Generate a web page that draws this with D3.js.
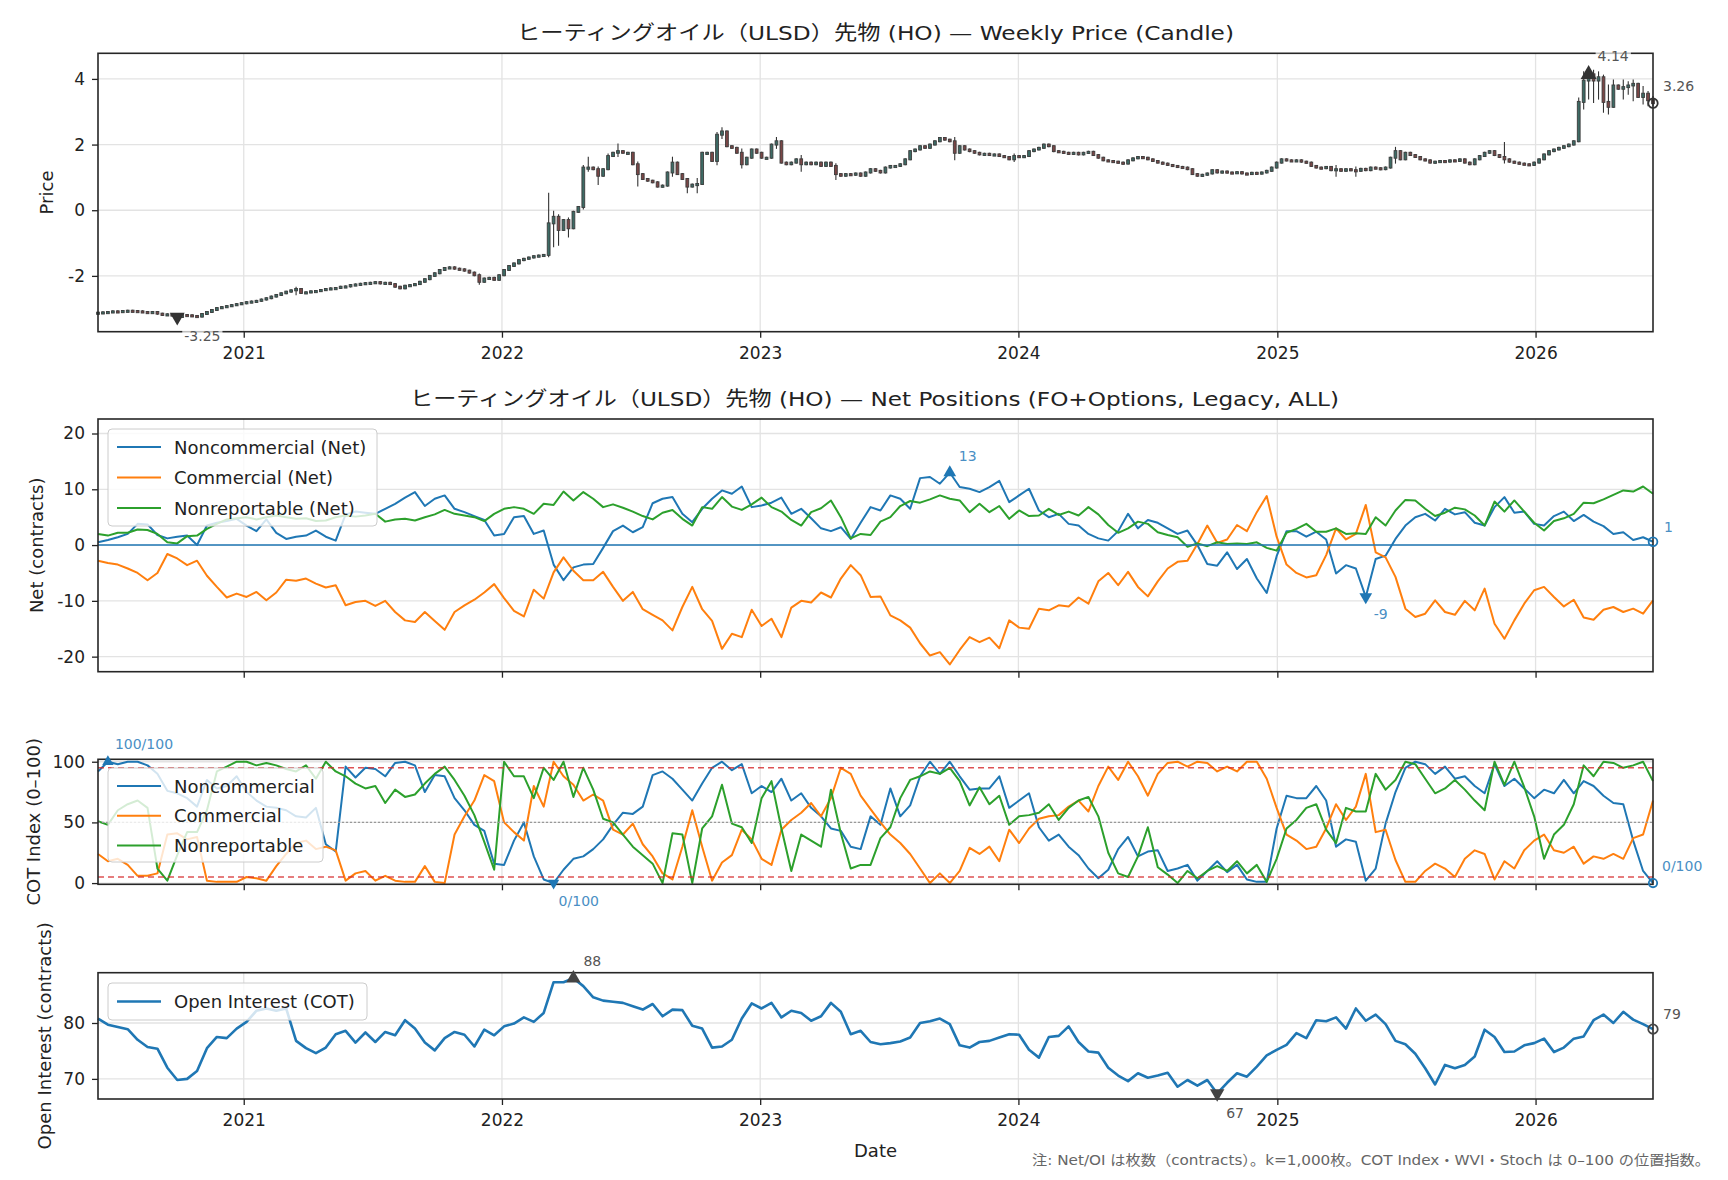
<!DOCTYPE html>
<html>
<head>
<meta charset="utf-8">
<script src="https://cdn.jsdelivr.net/npm/d3@7"></script>
<style>
body { margin: 0; background: #fff; }
svg text { font-family: "DejaVu Sans", "Noto Sans CJK JP", sans-serif; }
</style>
</head>
<body>
<svg id="chart" width="1728" height="1180"></svg>
<script>
// ---- data (weekly, first report 2020-06-09) ----
var startDate = "2020-06-09";
var yearTicks = ["2021", "2022", "2023", "2024", "2025", "2026"];
var seriesNames = ["Noncommercial", "Commercial", "Nonreportable"];

// weekly closes (back-adjusted price)
var priceClose = [
  -3.12,-3.11,-3.10,-3.08,-3.09,-3.07,-3.06,-3.07,-3.08,-3.10,
  -3.11,-3.10,-3.15,-3.19,-3.17,-3.21,-3.25,-3.19,-3.20,-3.22,
  -3.24,-3.16,-3.10,-3.04,-2.98,-2.95,-2.92,-2.89,-2.86,-2.83,
  -2.80,-2.78,-2.76,-2.72,-2.68,-2.63,-2.58,-2.53,-2.48,-2.44,
  -2.40,-2.52,-2.50,-2.47,-2.46,-2.43,-2.40,-2.38,-2.37,-2.33,
  -2.32,-2.28,-2.26,-2.24,-2.22,-2.21,-2.19,-2.23,-2.21,-2.25,
  -2.33,-2.38,-2.30,-2.28,-2.25,-2.18,-2.10,-2.00,-1.92,-1.82,
  -1.76,-1.74,-1.78,-1.80,-1.84,-1.90,-1.98,-2.18,-2.08,-2.06,
  -2.12,-1.98,-1.82,-1.70,-1.62,-1.52,-1.48,-1.44,-1.40,-1.38,
  -1.36,-0.40,-0.20,-0.60,-0.30,-0.55,-0.05,0.10,1.30,1.30,
  1.25,1.05,1.25,1.65,1.75,1.80,1.75,1.75,1.40,1.10,
  0.95,0.90,0.85,0.72,0.75,1.15,1.45,1.10,0.95,0.72,
  0.78,0.80,1.75,1.75,1.50,2.30,2.40,1.95,1.90,1.75,
  1.40,1.60,1.85,1.75,1.60,1.60,2.00,2.10,1.45,1.40,
  1.45,1.55,1.40,1.45,1.40,1.45,1.35,1.45,1.35,1.10,
  1.05,1.10,1.08,1.12,1.05,1.15,1.25,1.20,1.15,1.30,
  1.35,1.35,1.40,1.55,1.80,1.85,1.95,1.90,2.00,2.10,
  2.20,2.15,2.10,1.75,1.95,1.85,1.80,1.75,1.70,1.72,
  1.68,1.70,1.65,1.62,1.55,1.65,1.62,1.65,1.80,1.85,
  1.90,2.00,1.95,1.80,1.78,1.75,1.72,1.75,1.70,1.75,
  1.78,1.68,1.60,1.52,1.50,1.48,1.45,1.42,1.52,1.58,
  1.62,1.60,1.55,1.50,1.45,1.42,1.38,1.35,1.32,1.30,
  1.25,1.10,1.05,1.08,1.12,1.22,1.15,1.18,1.15,1.14,
  1.16,1.12,1.10,1.14,1.12,1.15,1.20,1.30,1.45,1.55,
  1.52,1.50,1.52,1.48,1.45,1.35,1.30,1.28,1.32,1.22,
  1.25,1.20,1.25,1.22,1.20,1.26,1.22,1.30,1.28,1.25,
  1.30,1.60,1.80,1.55,1.75,1.68,1.62,1.55,1.52,1.45,
  1.48,1.50,1.48,1.52,1.50,1.55,1.45,1.40,1.55,1.65,
  1.75,1.80,1.68,1.62,1.55,1.48,1.45,1.42,1.40,1.38,
  1.45,1.55,1.70,1.80,1.85,1.90,1.95,2.00,2.10,3.30,
  3.95,4.14,3.95,4.05,3.30,3.15,3.80,3.70,3.75,3.80,
  3.85,3.45,3.55,3.35,3.26
];
// [week index, high, low] for candles with visible wicks
var priceWicks = [
  [16,-3.20,-3.28],[40,-2.36,-2.56],[77,-1.96,-2.24],[91,0.50,-1.40],[92,-0.05,-1.10],
  [93,-0.15,-1.05],[95,-0.25,-0.80],[98,1.35,0.05],[99,1.60,1.20],[101,1.30,0.80],
  [103,1.70,1.25],[105,2.00,1.65],[109,1.45,0.75],[116,1.60,1.05],[119,0.95,0.55],
  [121,0.95,0.55],[125,2.35,1.40],[126,2.50,2.20],[130,1.85,1.30],[137,2.20,1.90],
  [142,1.65,1.20],[149,1.40,0.95],[173,2.20,1.55],[185,1.70,1.50],[250,1.35,1.05],
  [254,1.30,1.05],[262,1.90,1.45],[284,2.05,1.45],[299,3.40,2.25],[300,4.20,3.10],
  [301,4.30,3.40],[302,4.25,3.30],[303,4.20,3.40],[304,4.10,3.00],[305,3.80,2.95],
  [306,3.95,3.20],[308,3.95,3.40],[309,3.90,3.55],[310,3.95,3.35],[312,3.75,3.25],
  [313,3.60,3.20],[314,3.45,3.20]
];

// net positions, k contracts, every 2nd week
var netNoncomm = [
  0.5,0.9,1.4,2.0,3.8,3.7,1.8,1.2,1.5,1.7,
  0.0,3.5,4.0,4.3,4.7,3.5,2.5,4.6,2.2,1.1,
  1.5,1.7,2.6,1.5,0.8,5.5,6.0,5.8,5.6,6.5,
  7.4,8.5,9.5,7.0,8.3,8.9,6.5,5.9,5.2,4.5,
  1.7,2.0,5.0,5.2,2.0,2.6,-3.5,-6.3,-4.0,-3.5,
  -3.4,-0.5,2.5,3.5,2.3,3.2,7.5,8.3,8.6,5.6,
  4.1,6.5,8.3,9.8,9.2,10.5,6.8,7.1,7.6,8.5,
  5.6,6.5,4.8,3.0,2.5,3.2,1.1,4.0,6.8,6.2,
  8.9,8.3,6.5,12.0,12.2,11.0,13.0,10.4,10.1,9.5,
  10.4,11.5,7.7,8.9,10.1,6.2,5.0,5.6,3.8,3.5,
  2.0,1.2,0.8,2.5,5.6,3.0,4.5,4.0,3.0,2.0,
  2.6,0.0,-3.4,-3.7,-1.3,-4.3,-2.5,-6.0,-8.6,-2.0,
  2.5,2.5,1.5,2.4,1.0,-5.1,-3.6,-4.2,-9.3,-2.5,
  -1.9,1.1,3.5,5.0,5.6,4.4,6.5,5.5,5.9,4.0,
  3.5,6.8,8.6,5.8,6.0,3.8,3.5,5.2,6.0,4.3,
  5.4,4.2,3.4,2.0,2.3,0.9,1.4,0.6
];
var netComm = [
  -2.8,-3.2,-3.5,-4.2,-5.0,-6.3,-5.0,-1.6,-2.4,-3.6,
  -2.8,-5.5,-7.5,-9.4,-8.7,-9.3,-8.4,-9.9,-8.5,-6.2,
  -6.4,-6.0,-6.9,-7.6,-7.2,-10.8,-10.2,-10.0,-10.9,-10.0,
  -12.0,-13.5,-13.8,-12.0,-13.6,-15.2,-12.0,-10.8,-9.8,-8.5,
  -7.0,-9.5,-11.8,-12.8,-8.0,-9.6,-4.9,-2.2,-4.6,-6.3,
  -6.3,-4.8,-7.5,-10.0,-8.4,-11.5,-12.5,-13.5,-15.3,-11.1,
  -7.5,-11.5,-13.6,-18.6,-15.9,-16.5,-11.6,-14.5,-13.2,-16.5,
  -11.2,-10.0,-10.3,-8.5,-9.4,-6.0,-3.6,-5.4,-9.3,-9.2,
  -12.6,-13.5,-14.8,-17.6,-19.8,-19.2,-21.4,-18.8,-16.5,-17.4,
  -16.6,-18.5,-13.5,-14.8,-15.0,-11.4,-11.7,-10.8,-11.0,-9.4,
  -10.5,-6.5,-5.0,-7.2,-4.8,-7.5,-9.2,-6.5,-4.2,-3.0,
  -2.8,0.2,3.5,0.4,1.0,3.6,2.5,5.9,8.8,1.5,
  -3.5,-5.0,-5.8,-5.4,-1.8,3.0,1.0,2.0,7.2,-1.3,
  -2.2,-5.7,-11.4,-12.9,-12.3,-9.9,-12.0,-12.5,-10.0,-11.7,
  -7.8,-14.1,-16.8,-13.5,-10.5,-8.1,-7.5,-9.3,-11.0,-9.8,
  -13.0,-13.4,-11.6,-11.1,-12.0,-11.4,-12.3,-9.9
];
var netNonrep = [
  2.0,1.7,2.2,2.2,2.8,2.7,2.0,0.5,0.3,1.6,
  1.7,2.9,3.8,4.6,4.8,5.0,4.6,5.0,5.3,5.0,
  4.7,4.8,4.3,4.4,5.0,5.3,5.1,5.3,5.6,4.2,
  4.6,4.7,4.4,5.0,5.5,6.3,5.6,5.3,5.0,4.3,
  5.6,6.5,6.8,6.5,5.6,7.4,7.2,9.6,8.0,9.5,
  8.3,6.8,7.3,6.7,6.0,5.2,4.6,5.8,6.3,4.7,
  3.5,6.8,6.5,8.6,6.9,6.3,7.3,8.5,6.8,6.0,
  4.5,3.5,5.9,6.6,8.0,5.0,1.2,2.0,1.8,4.2,
  5.0,7.0,7.9,7.6,8.2,8.9,8.3,8.0,5.9,7.4,
  5.9,7.0,4.7,6.2,5.2,5.3,6.5,5.4,6.0,5.3,
  6.8,5.5,3.6,2.2,3.0,4.2,3.8,2.3,1.8,1.4,
  -0.3,0.3,-0.2,0.5,0.2,0.3,0.2,0.5,-0.5,-1.0,
  2.2,2.9,3.8,2.4,2.4,3.0,2.0,2.1,2.0,5.0,
  3.5,6.2,8.1,8.0,6.5,5.2,5.8,6.7,6.4,5.3,
  3.5,7.8,6.0,8.0,6.0,4.0,2.6,4.3,4.8,5.6,
  7.6,7.5,8.2,9.0,9.8,9.6,10.5,9.2
];

// COT index 0-100, every 2nd week
var cotNoncomm = [
  92,100,98,100,100,97,90,76,74,70,
  63,85,78,80,88,75,68,63,62,60,
  55,54,62,32,26,96,87,95,94,88,
  99,100,97,75,89,88,70,60,48,43,
  16,15,35,50,22,3,0,11,20,22,
  28,36,48,58,57,63,89,92,86,77,
  68,82,95,100,93,98,74,80,75,86,
  68,74,62,55,45,43,30,28,55,48,
  78,55,64,88,100,90,100,88,77,78,
  78,88,62,68,74,46,35,40,30,23,
  12,4,11,28,38,22,26,27,10,12,
  15,2,10,18,9,15,3,1,1,45,
  72,70,70,80,68,30,36,34,2,12,
  49,75,95,100,98,90,96,86,88,80,
  74,98,80,86,78,70,77,74,85,74,
  84,80,72,66,65,35,10,0
];
var cotComm = [
  24,18,20,15,6,6,8,40,41,36,
  38,2,1,1,1,5,4,2,14,24,
  33,35,28,30,27,2,8,10,2,6,
  2,1,1,14,1,0,40,55,68,89,
  84,50,42,35,80,63,100,88,81,68,
  73,68,44,40,49,32,22,8,3,30,
  60,30,2,17,23,44,36,20,15,44,
  52,58,66,55,70,95,90,72,61,50,
  40,33,24,12,0,8,0,10,29,24,
  30,18,44,33,45,53,55,56,63,68,
  59,80,96,85,100,88,72,90,99,100,
  96,100,99,92,96,92,100,100,86,62,
  40,35,28,30,45,65,52,63,90,42,
  44,19,1,1,10,16,12,5,20,27,
  24,3,18,12,27,35,40,27,25,30,
  16,22,20,24,20,37,40,68
];
var cotNonrep = [
  51,48,60,65,68,62,12,2,23,42,
  42,60,92,96,100,100,97,99,97,94,
  92,97,86,100,92,88,82,78,80,66,
  77,71,73,82,90,96,85,72,56,34,
  11,100,88,88,70,95,85,100,71,95,
  77,53,50,40,30,23,16,0,41,40,
  0,45,55,81,49,46,33,70,84,45,
  10,40,35,30,77,41,12,15,15,37,
  46,70,85,88,92,90,95,84,64,79,
  65,72,48,55,56,58,65,52,62,68,
  71,55,25,8,5,22,46,13,7,0,
  10,4,10,14,10,18,8,15,1,20,
  45,52,62,65,44,33,62,59,59,90,
  77,85,100,98,86,74,78,85,77,68,
  60,100,81,100,79,55,20,40,48,65,
  97,88,100,99,95,97,100,84
];

// open interest, k contracts, every 2nd week
var openInterest = [
  80.8,79.7,79.3,78.9,77.0,75.7,75.4,72.0,69.8,70.0,
  71.4,75.5,77.5,77.3,79.0,80.2,82.2,82.6,82.2,82.6,
  76.8,75.5,74.6,75.6,78.0,78.6,76.5,78.3,76.6,78.4,
  77.8,80.5,79.0,76.5,75.1,77.3,78.4,77.9,75.8,78.8,
  77.8,79.4,79.9,81.0,80.2,81.8,87.3,87.3,88.0,86.6,
  84.6,84.0,83.8,83.6,83.0,82.4,83.4,81.2,82.4,82.3,
  79.5,79.0,75.6,75.8,77.0,80.8,83.5,82.6,83.6,81.0,
  82.2,81.8,80.4,81.2,83.6,82.0,78.0,78.6,76.6,76.2,
  76.4,76.7,77.4,80.0,80.3,80.8,79.8,76.0,75.6,76.6,
  76.8,77.4,78.0,77.9,75.2,73.8,77.5,77.7,79.4,76.6,
  74.9,74.7,72.0,70.6,69.6,71.0,70.2,70.6,71.1,68.6,
  69.8,68.8,69.8,67.4,69.3,71.0,70.4,72.2,74.2,75.2,
  76.1,78.2,77.3,80.5,80.3,81.0,79.0,82.6,80.4,81.5,
  79.8,76.8,76.2,74.5,71.9,69.0,72.5,71.9,72.5,74.0,
  78.8,77.5,74.8,74.9,76.0,76.4,77.2,74.8,75.6,77.2,
  77.6,80.5,81.5,80.0,82.0,80.6,79.8,78.9
];

var priceTicks = [-2, 0, 2, 4];
var netTicks = [-20, -10, 0, 10, 20];
var cotTicks = [0, 50, 100];
var oiTicks = [70, 80];

// ---- layout ----
var colors = ["#1f77b4", "#ff7f0e", "#2ca02c"];
var L = 98, R = 1653;
var panels = [
  {top: 53.3, bottom: 331.7},
  {top: 419, bottom: 671.7},
  {top: 759.3, bottom: 884.3},
  {top: 972.7, bottom: 1099}
];

var svg = d3.select("#chart");
svg.append("rect").attr("width", 1728).attr("height", 1180).attr("fill", "#fff");

var t0 = d3.utcParse("%Y-%m-%d")(startDate);
var weekDates = priceClose.map(function(d, i) { return d3.utcDay.offset(t0, 7 * i); });
var biDates = netNoncomm.map(function(d, i) { return d3.utcDay.offset(t0, 14 * i); });
var yearDates = yearTicks.map(function(s) { return new Date(Date.UTC(+s, 0, 1)); });

var x = d3.scaleUtc().domain([weekDates[0], weekDates[weekDates.length - 1]]).range([L, R]);
var yP = d3.scaleLinear().domain([-3.70, 4.78]).range([panels[0].bottom, panels[0].top]);
var yN = d3.scaleLinear().domain([-22.7, 22.6]).range([panels[1].bottom, panels[1].top]);
var yC = d3.scaleLinear().domain([-1, 102]).range([panels[2].bottom, panels[2].top]);
var yO = d3.scaleLinear().domain([66.4, 89.0]).range([panels[3].bottom, panels[3].top]);

function grid(p, y, ticks) {
  var g = svg.append("g");
  g.selectAll(".vx").data(yearDates).enter().append("line")
    .attr("x1", function(d) { return x(d); }).attr("x2", function(d) { return x(d); })
    .attr("y1", p.top).attr("y2", p.bottom)
    .attr("stroke", "#e3e3e3").attr("stroke-width", 1.3);
  g.selectAll(".hy").data(ticks).enter().append("line")
    .attr("x1", L).attr("x2", R)
    .attr("y1", function(d) { return y(d); }).attr("y2", function(d) { return y(d); })
    .attr("stroke", "#e3e3e3").attr("stroke-width", 1.3);
}

function axes(p, y, ticks, showYears) {
  var ay = svg.append("g").attr("transform", "translate(" + L + ",0)")
    .call(d3.axisLeft(y).tickValues(ticks).tickSize(6).tickPadding(7).tickFormat(function(d) { return String(d); }));
  var ax = svg.append("g").attr("transform", "translate(0," + p.bottom + ")")
    .call(d3.axisBottom(x).tickValues(yearDates).tickSize(6).tickPadding(9)
      .tickFormat(showYears ? d3.utcFormat("%Y") : function() { return ""; }));
  [ay, ax].forEach(function(a) {
    a.select(".domain").remove();
    a.selectAll("line").attr("stroke", "#222").attr("stroke-width", 1.3);
    a.selectAll("text").attr("font-size", 17).attr("fill", "#222")
      .attr("font-family", '"DejaVu Sans", "Noto Sans CJK JP", sans-serif');
  });
  svg.append("rect").attr("x", L).attr("y", p.top).attr("width", R - L).attr("height", p.bottom - p.top)
    .attr("fill", "none").attr("stroke", "#262626").attr("stroke-width", 1.6);
}

function yLabel(text, cx, cy) {
  svg.append("text").attr("transform", "translate(" + cx + "," + cy + ") rotate(-90)")
    .attr("text-anchor", "middle").attr("dominant-baseline", "central")
    .attr("font-size", 18).attr("fill", "#222").text(text);
}

function title(text, x0, cy, len) {
  svg.append("text").attr("x", x0).attr("y", cy).attr("dominant-baseline", "central")
    .attr("font-size", 20).attr("fill", "#222")
    .attr("textLength", len).attr("lengthAdjust", "spacingAndGlyphs").text(text);
}

function marker(type, px, py, color, size) {
  var sym = type === "circle" ? d3.symbolCircle : d3.symbolTriangle;
  var path = svg.append("path").attr("d", d3.symbol().type(sym).size(size)())
    .attr("transform", "translate(" + px + "," + py + ")" + (type === "down" ? " rotate(180)" : ""));
  if (type === "circle") path.attr("fill", "none").attr("stroke", color).attr("stroke-width", 1.8);
  else path.attr("fill", color);
}

function note(px, py, dx, dy, text, color) {
  var g = svg.append("g");
  var t = g.append("text").attr("x", px + dx).attr("y", py + dy).attr("dominant-baseline", "central")
    .attr("font-size", 14).attr("fill", color).text(text);
  var bb = t.node().getBBox();
  g.insert("rect", "text").attr("x", bb.x - 2).attr("y", bb.y - 1).attr("width", bb.width + 4).attr("height", bb.height + 2)
    .attr("fill", "#fff").attr("opacity", 0.7);
}

function legend(box, names, lw) {
  var g = svg.append("g");
  g.append("rect").attr("x", box.x).attr("y", box.y).attr("width", box.w).attr("height", box.h)
    .attr("rx", 4).attr("fill", "#fff").attr("fill-opacity", 0.8).attr("stroke", "#cccccc");
  names.forEach(function(n, i) {
    var cy = box.y + box.first + i * box.step;
    g.append("line").attr("x1", box.x + 9).attr("x2", box.x + 53).attr("y1", cy).attr("y2", cy)
      .attr("stroke", colors[i]).attr("stroke-width", lw);
    g.append("text").attr("x", box.x + 66).attr("y", cy).attr("dominant-baseline", "central")
      .attr("font-size", 18).attr("fill", "#222").text(n);
  });
}

function line(data, y, color, w) {
  svg.append("path").datum(data)
    .attr("d", d3.line().x(function(d, i) { return x(biDates[i]); }).y(function(d) { return y(d); }))
    .attr("fill", "none").attr("stroke", color).attr("stroke-width", w).attr("stroke-linejoin", "round");
}

// ---- panel 1: weekly candles ----
var p1 = panels[0];
grid(p1, yP, priceTicks);
var wickMap = {};
priceWicks.forEach(function(w) { wickMap[w[0]] = w; });
var candles = priceClose.map(function(c, i) {
  var o = i > 0 ? priceClose[i - 1] : c;
  var w = wickMap[i];
  return {date: weekDates[i], o: o, c: c,
    h: Math.max(o, c, w ? w[1] : -99), l: Math.min(o, c, w ? w[2] : 99)};
});
var cg = svg.append("g");
cg.selectAll("line").data(candles).enter().append("line")
  .attr("x1", function(d) { return x(d.date); }).attr("x2", function(d) { return x(d.date); })
  .attr("y1", function(d) { return yP(d.h) - 1; }).attr("y2", function(d) { return yP(d.l) + 1; })
  .attr("stroke", "#333").attr("stroke-width", 1.1);
cg.selectAll("rect").data(candles).enter().append("rect")
  .attr("x", function(d) { return x(d.date) - 1.4; }).attr("width", 2.8)
  .attr("y", function(d) { return yP(Math.max(d.o, d.c)) - 0.5; })
  .attr("height", function(d) { return Math.max(2.2, Math.abs(yP(d.o) - yP(d.c)) + 1); })
  .attr("fill", function(d) { return d.c >= d.o ? "#3d6b65" : "#7a4646"; })
  .attr("stroke", "#3c3c3c").attr("stroke-width", 0.9);
axes(p1, yP, priceTicks, true);
yLabel("Price", 46, (p1.top + p1.bottom) / 2);
title("ヒーティングオイル（ULSD）先物 (HO) — Weekly Price (Candle)", 517, 33, 717);

var iMin = d3.minIndex(priceClose), iMax = d3.maxIndex(priceClose), iLast = priceClose.length - 1;
marker("down", x(weekDates[iMin]), yP(priceClose[iMin]), "#333", 95);
note(x(weekDates[iMin]), yP(priceClose[iMin]), 7, 19, priceClose[iMin].toFixed(2), "#555");
marker("up", x(weekDates[iMax]), yP(priceClose[iMax]), "#333", 110);
note(x(weekDates[iMax]), yP(priceClose[iMax]), 9, -18, priceClose[iMax].toFixed(2), "#555");
marker("circle", x(weekDates[iLast]), yP(priceClose[iLast]), "#333", 70);
note(x(weekDates[iLast]), yP(priceClose[iLast]), 10, -17, priceClose[iLast].toFixed(2), "#555");

// ---- panel 2: net positions ----
var p2 = panels[1];
grid(p2, yN, netTicks);
[netNoncomm, netComm, netNonrep].forEach(function(s, k) { line(s, yN, colors[k], 2); });
svg.append("line").attr("x1", L).attr("x2", R).attr("y1", yN(0)).attr("y2", yN(0))
  .attr("stroke", colors[0]).attr("stroke-width", 1.5);
axes(p2, yN, netTicks, false);
yLabel("Net (contracts)", 36, (p2.top + p2.bottom) / 2);
title("ヒーティングオイル（ULSD）先物 (HO) — Net Positions (FO+Options, Legacy, ALL)", 410, 399, 929);
legend({x: 108, y: 429, w: 269, h: 97, first: 18, step: 30.5},
  seriesNames.map(function(n) { return n + " (Net)"; }), 2);
var nMax = d3.maxIndex(netNoncomm), nMin = d3.minIndex(netNoncomm), nLast = netNoncomm.length - 1;
marker("up", x(biDates[nMax]), yN(netNoncomm[nMax]), colors[0], 70);
note(x(biDates[nMax]), yN(netNoncomm[nMax]), 9, -17, Math.round(netNoncomm[nMax]), "#4a8fc4");
marker("down", x(biDates[nMin]), yN(netNoncomm[nMin]), colors[0], 70);
note(x(biDates[nMin]), yN(netNoncomm[nMin]), 8, 17, Math.round(netNoncomm[nMin]), "#4a8fc4");
marker("circle", x(biDates[nLast]), yN(netNoncomm[nLast]), colors[0], 60);
note(x(biDates[nLast]), yN(netNoncomm[nLast]), 11, -15, Math.round(netNoncomm[nLast]), "#4a8fc4");

// ---- panel 3: COT index ----
var p3 = panels[2];
grid(p3, yC, cotTicks);
[cotNoncomm, cotComm, cotNonrep].forEach(function(s, k) { line(s, yC, colors[k], 2); });
[95, 5].forEach(function(v) {
  svg.append("line").attr("x1", L).attr("x2", R).attr("y1", yC(v)).attr("y2", yC(v))
    .attr("stroke", "#d62728").attr("stroke-opacity", 0.8).attr("stroke-width", 1.5).attr("stroke-dasharray", "6,4");
});
svg.append("line").attr("x1", L).attr("x2", R).attr("y1", yC(50)).attr("y2", yC(50))
  .attr("stroke", "#999").attr("stroke-width", 1.3).attr("stroke-dasharray", "2,2");
axes(p3, yC, cotTicks, false);
yLabel("COT Index (0–100)", 33, (p3.top + p3.bottom) / 2);
legend({x: 108, y: 768, w: 215, h: 94, first: 18, step: 29.7}, seriesNames, 2);
var cMax = d3.maxIndex(cotNoncomm), cMin = d3.minIndex(cotNoncomm), cLast = cotNoncomm.length - 1;
marker("up", x(biDates[cMax]), yC(cotNoncomm[cMax]), colors[0], 55);
note(x(biDates[cMax]), yC(cotNoncomm[cMax]), 7, -18, cotNoncomm[cMax] + "/100", "#4a8fc4");
marker("down", x(biDates[cMin]), yC(cotNoncomm[cMin]), colors[0], 55);
note(x(biDates[cMin]), yC(cotNoncomm[cMin]), 5, 18, cotNoncomm[cMin] + "/100", "#4a8fc4");
marker("circle", x(biDates[cLast]), yC(cotNoncomm[cLast]), colors[0], 55);
note(x(biDates[cLast]), yC(cotNoncomm[cLast]), 9, -17, cotNoncomm[cLast] + "/100", "#4a8fc4");

// ---- panel 4: open interest ----
var p4 = panels[3];
grid(p4, yO, oiTicks);
line(openInterest, yO, colors[0], 2.6);
axes(p4, yO, oiTicks, true);
yLabel("Open Interest (contracts)", 44, (p4.top + p4.bottom) / 2);
legend({x: 108, y: 983, w: 259, h: 37, first: 18.5, step: 0}, ["Open Interest (COT)"], 2.6);
var oMax = d3.maxIndex(openInterest), oMin = d3.minIndex(openInterest), oLast = openInterest.length - 1;
marker("up", x(biDates[oMax]), yO(openInterest[oMax]), "#444", 90);
note(x(biDates[oMax]), yO(openInterest[oMax]), 10, -17, Math.round(openInterest[oMax]), "#555");
marker("down", x(biDates[oMin]), yO(openInterest[oMin]), "#444", 90);
note(x(biDates[oMin]), yO(openInterest[oMin]), 9, 20, Math.round(openInterest[oMin]), "#555");
marker("circle", x(biDates[oLast]), yO(openInterest[oLast]), "#444", 70);
note(x(biDates[oLast]), yO(openInterest[oLast]), 10, -15, Math.round(openInterest[oLast]), "#555");

svg.append("text").attr("x", (L + R) / 2).attr("y", 1150).attr("text-anchor", "middle")
  .attr("dominant-baseline", "central").attr("font-size", 18).attr("fill", "#222").text("Date");
svg.append("text").attr("x", 1032).attr("y", 1160).attr("dominant-baseline", "central")
  .attr("font-size", 14).attr("fill", "#666").attr("textLength", 678).attr("lengthAdjust", "spacingAndGlyphs")
  .text("注: Net/OI は枚数（contracts）。k=1,000枚。COT Index・WVI・Stoch は 0–100 の位置指数。");
</script>
</body>
</html>
